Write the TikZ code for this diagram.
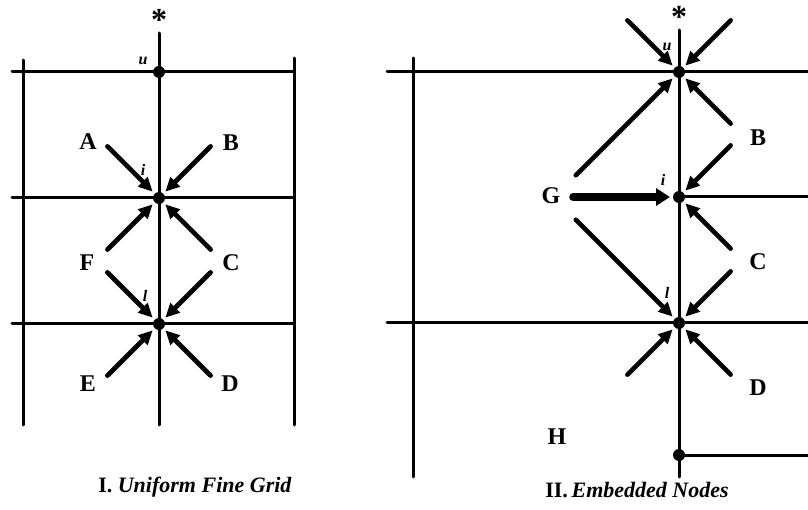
\documentclass[tikz,border=0pt]{standalone}
\usepackage{fontspec}
\setmainfont{Liberation Serif}
\usetikzlibrary{arrows.meta,calc}
\tikzset{
  gridline/.style={line width=1.5pt, line cap=round},
  dot/.style     ={circle, fill=black, inner sep=0pt, minimum size=6pt},
  flow/.style    ={-{Triangle[length=7pt,width=6.5pt]}, line width=2.3pt,
                   line cap=round, shorten >=4.5pt},
  bigflow/.style ={flow, -{Triangle[length=7pt,width=8.5pt]}, line width=3.8pt},
  lab/.style     ={font=\fontsize{12}{13}\selectfont\bfseries, inner sep=1pt},
  idx/.style     ={font=\fontsize{8}{9}\selectfont\bfseries\itshape, inner sep=0pt},
  star/.style    ={font=\fontsize{16}{16}\selectfont\bfseries, inner sep=0pt},
  capt/.style    ={font=\fontsize{11}{12}\selectfont\bfseries},
}

\begin{document}
\begin{tikzpicture}[x=0.5pt,y=0.5pt]
  \useasboundingbox (0,0) rectangle (808,509);

  % I. uniform fine grid
  \draw[gridline] (23,449) -- (23,84);
  \draw[gridline] (294,451) -- (294,84);
  \draw[gridline] (159,476) -- (159,84);
  \foreach \y in {437,311,185}
    \draw[gridline] (12,\y) -- (294,\y);
  \node[dot] (u) at (159,437) {};
  \node[dot] (i) at (159,311) {};
  \node[dot] (l) at (159,185) {};
  \node[star, anchor=north] (su) at (159,500) {*};
  \node[idx] (ul) at (143,448) {u};
  \node[idx] (il) at (143,339) {i};
  \node[idx] (ll) at (145,213) {l};
  \foreach \nd in {i,l}
    \foreach \a in {45,135,225,315} {
      \coordinate (\nd-\a) at ($(\nd.center)+(\a:36.5pt)$);
      \draw[flow] (\nd-\a) -- (\nd.center);
    }
  \node[lab] (A) at (88,367) {A};
  \node[lab] (B) at (231,366) {B};
  \node[lab] (F) at (87,246) {F};
  \node[lab] (C) at (231,246) {C};
  \node[lab] (E) at (88,125) {E};
  \node[lab] (D) at (230,125) {D};
  \node[capt] (cap1) at (195,22) {I. \textit{Uniform Fine Grid}};

  % II. embedded nodes
  \draw[gridline] (413,451) -- (413,32);
  \draw[gridline] (679,479) -- (679,32);
  \draw[gridline] (387,437) -- (808,437);
  \draw[gridline] (679,312) -- (808,312);
  \draw[gridline] (387,186) -- (808,186);
  \draw[gridline] (679,54) -- (808,54);
  \node[dot] (u2) at (679,437) {};
  \node[dot] (i2) at (679,312) {};
  \node[dot] (l2) at (679,186) {};
  \node[dot] (m2) at (679,54) {};
  \node[star, anchor=north] (su2) at (679,503) {*};
  \node[idx] (ul2) at (667,462) {u};
  \node[idx] (il2) at (663,329) {i};
  \node[idx] (ll2) at (667,216) {l};
  \foreach \nd/\angs in {u2/{45,135,315}, i2/{45,315}, l2/{45,225,315}}
    \foreach \a in \angs {
      \coordinate (\nd-\a) at ($(\nd.center)+(\a:36.5pt)$);
      \draw[flow] (\nd-\a) -- (\nd.center);
    }
  \coordinate (g-u) at ($(u2.center)+(225:73pt)$);
  \coordinate (g-l) at ($(l2.center)+(135:73pt)$);
  \coordinate (g-i) at ($(i2.center)+(180:53pt)$);
  \draw[flow] (g-u) -- (u2.center);
  \draw[flow] (g-l) -- (l2.center);
  \draw[bigflow] (g-i) -- (i2.center);
  \node[lab] (G) at (551,313) {G};
  \node[lab] (B2) at (758,371) {B};
  \node[lab] (C2) at (758,247) {C};
  \node[lab] (D2) at (758,121) {D};
  \node[lab] (H) at (557,72) {H};
  \node[capt] (cap2) at (637,19) {II.\,\textit{Embedded Nodes}};
\end{tikzpicture}
\end{document}
